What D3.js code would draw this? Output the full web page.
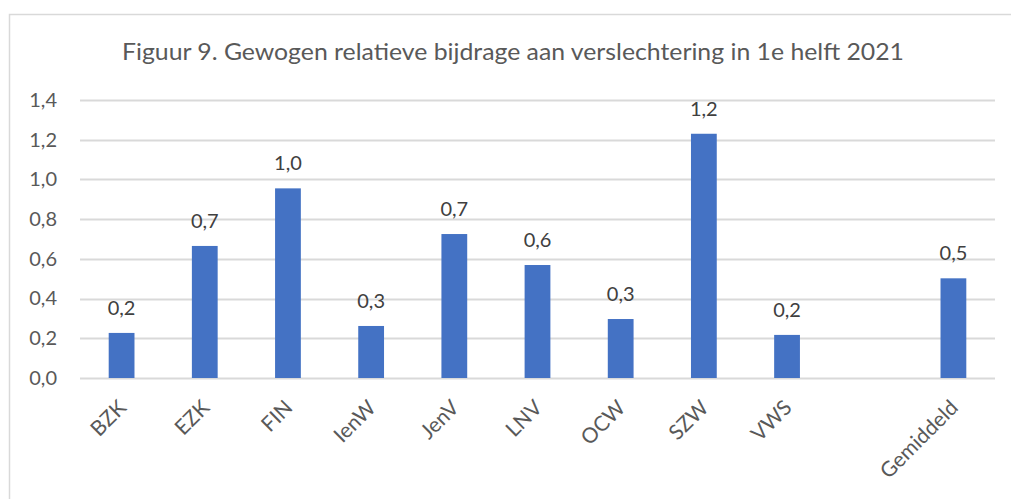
<!DOCTYPE html>
<html>
<head>
<meta charset="utf-8">
<script src="https://cdn.jsdelivr.net/npm/d3@7"></script>
<style>
  body { margin: 0; background: #fff; }
  text { font-family: Lato, "Open Sans", sans-serif; fill: #595959; }
</style>
</head>
<body>
<div id="chart"></div>
<script>
// Gewogen relatieve bijdrage per departement (lege plek tussen VWS en Gemiddeld)
const categories = ['BZK', 'EZK', 'FIN', 'IenW', 'JenV', 'LNV', 'OCW', 'SZW', 'VWS', ' ', 'Gemiddeld'];
const values = [0.227, 0.665, 0.955, 0.262, 0.725, 0.569, 0.297, 1.23, 0.217, null, 0.502];
const yTicks = [0, 0.2, 0.4, 0.6, 0.8, 1.0, 1.2, 1.4];
const title = 'Figuur 9. Gewogen relatieve bijdrage aan verslechtering in 1e helft 2021';

(function() {
  const W = 1011, H = 499;
  const plot = { left: 80, right: 995, top: 100, bottom: 378 };

  const nl = d3.formatLocale({ decimal: ',', thousands: '.', grouping: [3], currency: ['€', ''] });
  const fmt = nl.format('.1f');

  const svg = d3.select('#chart')
    .append('svg')
    .attr('width', W)
    .attr('height', H);

  // chart frame (runs off the right and bottom edge)
  svg.append('rect')
    .attr('x', 9.5)
    .attr('y', 14.5)
    .attr('width', 1100)
    .attr('height', 600)
    .attr('fill', '#fff')
    .attr('stroke', '#d9d9d9')
    .attr('stroke-width', 1.5);

  const data = categories.map((c, i) => ({ cat: c, value: values[i] }));

  const x = d3.scaleBand()
    .domain(categories)
    .range([plot.left, plot.right])
    .paddingInner(0.69)
    .paddingOuter(0.345);

  const y = d3.scaleLinear()
    .domain([0, 1.4])
    .range([plot.bottom, plot.top]);

  // gridlines
  svg.append('g')
    .selectAll('line')
    .data(yTicks)
    .enter()
    .append('line')
    .attr('x1', plot.left)
    .attr('x2', plot.right)
    .attr('y1', d => Math.round(y(d)) + 0.5)
    .attr('y2', d => Math.round(y(d)) + 0.5)
    .attr('stroke', '#d9d9d9')
    .attr('stroke-width', 2);

  // y axis labels
  const yAxis = d3.axisLeft(y).tickValues(yTicks).tickFormat(fmt).tickSize(0).tickPadding(23);
  const gy = svg.append('g')
    .attr('transform', `translate(${plot.left}, 0)`)
    .call(yAxis);
  gy.select('.domain').remove();
  gy.selectAll('text')
    .style('font-size', '20px')
    .style('font-family', 'Lato, sans-serif')
    .attr('fill', '#595959');

  // bars
  const bars = data.filter(d => d.value != null);
  svg.selectAll('.bar')
    .data(bars)
    .enter()
    .append('rect')
    .attr('class', 'bar')
    .attr('x', d => x(d.cat))
    .attr('y', d => y(d.value))
    .attr('width', x.bandwidth())
    .attr('height', d => y(0) - y(d.value))
    .attr('fill', '#4472c4');

  // value labels
  svg.selectAll('.val')
    .data(bars)
    .enter()
    .append('text')
    .attr('class', 'val')
    .attr('x', d => x(d.cat) + x.bandwidth() / 2)
    .attr('y', d => y(d.value) - 18)
    .attr('text-anchor', 'middle')
    .style('font-size', '20px')
    .style('fill', '#404040')
    .text(d => fmt(d.value));

  // category labels, rotated -45
  svg.selectAll('.cat')
    .data(data.filter(d => d.cat.trim() !== ''))
    .enter()
    .append('text')
    .attr('class', 'cat')
    .attr('transform', d => `translate(${x(d.cat) + x.bandwidth() / 2 + 6}, 409) rotate(-45)`)
    .attr('text-anchor', 'end')
    .style('font-size', '21px')
    .text(d => d.cat);

  // title
  svg.append('text')
    .attr('x', 513)
    .attr('y', 60)
    .attr('text-anchor', 'middle')
    .attr('textLength', 782)
    .attr('lengthAdjust', 'spacingAndGlyphs')
    .style('font-size', '24px')
    .text(title);
})();
</script>
</body>
</html>
